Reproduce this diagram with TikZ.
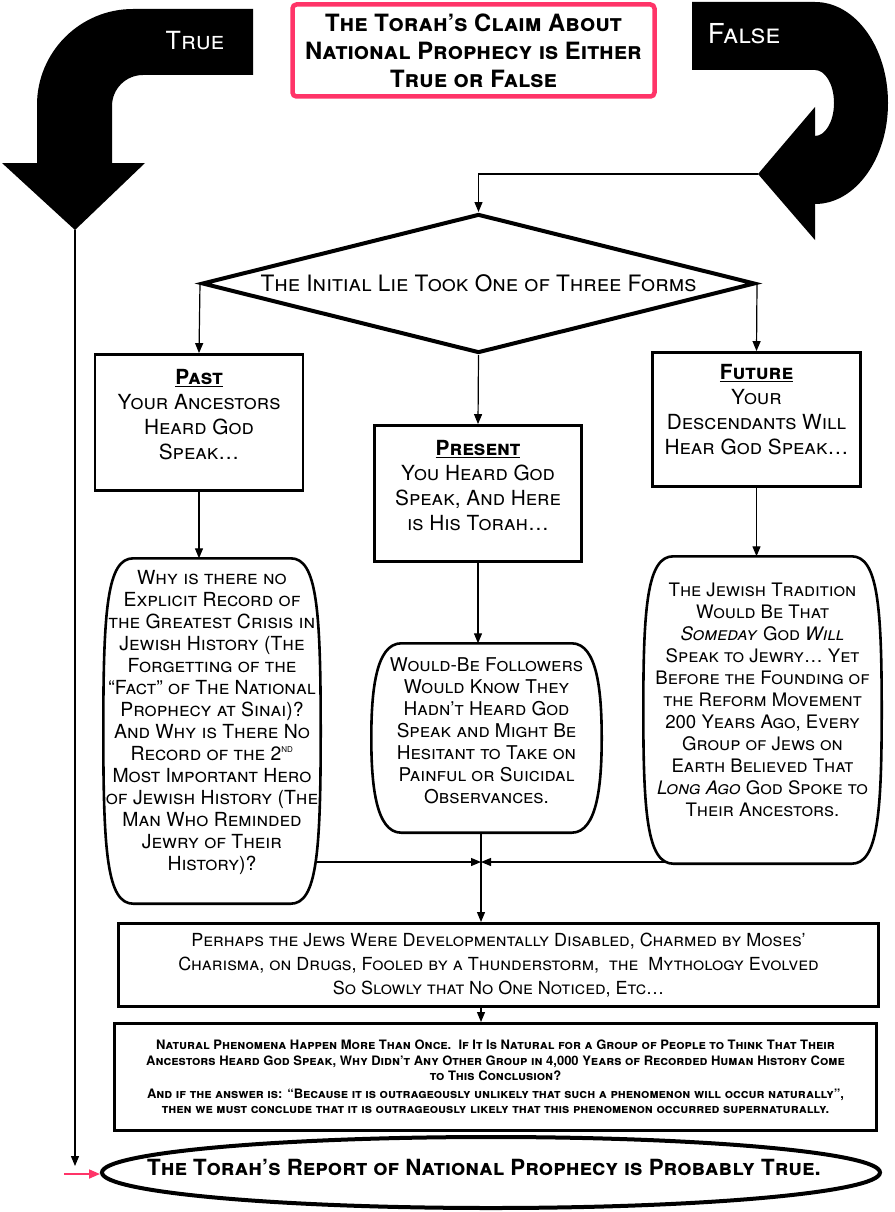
\documentclass[tikz,border=0pt]{standalone}
\usepackage{fontspec}
\setmainfont{TeX Gyre Heros}
\usetikzlibrary{shapes.geometric,arrows.meta,calc}
\definecolor{ClaimPink}{HTML}{FF3468}

% barrel outline drawn round a node
\newcommand\barrelpath[1]{%
  \draw[line width=2.6pt] ($(#1.north west)+(30,0)$) -- ($(#1.north east)+(-30,0)$)
    .. controls ($(#1.north east)+(-4,0)$) and ($(#1.north east)+(0,50)$) .. (#1.east)
    .. controls ($(#1.south east)+(0,-50)$) and ($(#1.south east)+(-4,0)$) .. ($(#1.south east)+(-30,0)$)
    -- ($(#1.south west)+(30,0)$)
    .. controls ($(#1.south west)+(4,0)$) and ($(#1.south west)+(0,-50)$) .. (#1.west)
    .. controls ($(#1.north west)+(0,50)$) and ($(#1.north west)+(4,0)$) .. cycle;}

\tikzset{
  link/.style={line width=1.2pt,-{Triangle[length=10pt,width=8pt]}},
  pinklink/.style={ClaimPink,line width=1.8pt,-{Triangle[length=11pt,width=9pt]}},
  answerlabel/.style={text=white,font=\fontsize{25}{25}\selectfont\scshape},
  claimbox/.style={draw=ClaimPink,line width=4.5pt,rounded corners=4pt,minimum width=362pt,
    minimum height=92pt,inner sep=0pt,align=center,font=\fontsize{23.8}{28}\selectfont\bfseries\scshape},
  liebox/.style={draw,diamond,aspect=3.98,line width=4pt,minimum width=553pt,minimum height=139pt,
    inner sep=0pt,font=\fontsize{22.6}{22.6}\selectfont\scshape},
  formbox/.style={draw,line width=2.8pt,minimum width=208pt,minimum height=136pt,inner sep=0pt,
    align=center,font=\fontsize{20.8}{25}\selectfont\scshape},
  doubtbarrel/.style={inner sep=0pt,align=center},
  reasonbox/.style={draw,line width=3pt,inner sep=0pt,align=center},
  verdictoval/.style={draw,ellipse,line width=4pt,minimum width=778pt,minimum height=71pt,
    inner sep=0pt,font=\fontsize{22.3}{22.3}\selectfont\bfseries\scshape}
}

\begin{document}
\begin{tikzpicture}[x=1pt,y=-1pt]
\useasboundingbox (0,0) rectangle (894,1212);

% the two answers
\fill (253,9) -- (133,9) arc (270:180:96) -- (37,163) -- (2,163) -- (75,230) -- (145,163)
  -- (112,163) -- (112,106) arc (180:270:31) -- (253,75) -- cycle;
\fill (692,2) -- (815,2) arc[start angle=270,end angle=450,x radius=73,y radius=101]
  -- (815,240) -- (758,174) -- (815,107) -- (815,136)
  arc[start angle=90,end angle=-90,x radius=19,y radius=33] -- (692,70) -- cycle;
\node[answerlabel] (truelabel) at (195,41) {True};
\node[answerlabel,font=\fontsize{27.5}{27.5}\selectfont\scshape] (falselabel) at (744,34) {False};
\coordinate (truetip) at (75,230);
\coordinate (falsetip) at (758,174);

\node[claimbox] (claim) at (473.5,50.5)
  {The Torah’s Claim About\\National Prophecy is Either\\True or False};

\node[liebox] (lie) at (478.5,283.5) {The Initial Lie Took One of Three Forms};

% the three forms
\node[formbox] (past) at (199,422.5)
  {\underline{\textbf{Past}}\\Your Ancestors\\Heard God\\Speak…\\[-9pt]\mbox{}};
\node[formbox,minimum width=207pt] (present) at (478,493.5)
  {\underline{\textbf{Present}}\\You Heard God\\Speak, And Here\\is His Torah…\\[-9pt]\mbox{}};
\node[formbox,minimum height=134pt] (future) at (756.5,419.5)
  {\underline{\textbf{Future}}\\Your\\Descendants Will\\Hear God Speak…\\[-5pt]\mbox{}};

% the doubts
\node[doubtbarrel,minimum width=217pt,minimum height=345pt,
  font=\fontsize{19.4}{22}\selectfont\scshape] (whybarrel) at (212,731)
  {Why is there no\\Explicit Record of\\the Greatest Crisis in\\Jewish History (The\\
   Forgetting of the\\“Fact” of The National\\Prophecy at Sinai)?\\And Why is There No\\
   Record of the 2\textsuperscript{\fontsize{8}{8}\selectfont\upshape ND}\\Most Important Hero\\
   of Jewish History (The\\Man Who Reminded\\Jewry of Their\\History)?\\[0pt]\mbox{}};
\node[doubtbarrel,minimum width=230pt,minimum height=189pt,
  font=\fontsize{19}{22}\selectfont\scshape] (followbarrel) at (486.5,738)
  {Would-Be Followers\\Would Know They\\Hadn’t Heard God\\Speak and Might Be\\
   Hesitant to Take on\\Painful or Suicidal\\Observances.\\[-7pt]\mbox{}};
\node[doubtbarrel,minimum width=238pt,minimum height=307pt,
  font=\fontsize{18.6}{22}\selectfont\scshape] (traditionbarrel) at (762.5,710)
  {The Jewish Tradition\\Would Be That\\\textit{Someday} God \textit{Will}\\Speak to Jewry… Yet\\
   Before the Founding of\\the Reform Movement\\200 Years Ago, Every\\Group of Jews on\\
   Earth Believed That\\\textit{Long Ago} God Spoke to\\Their Ancestors.\\[-1pt]\mbox{}};
\barrelpath{whybarrel}
\barrelpath{followbarrel}
\barrelpath{traditionbarrel}

% the explanations
\node[reasonbox,minimum width=760pt,minimum height=83pt,
  font=\fontsize{18}{24}\selectfont\scshape] (perhaps) at (498.5,965)
  {Perhaps the Jews Were Developmentally Disabled, Charmed by Moses’\\
   Charisma, on Drugs, Fooled by a Thunderstorm,\ \ the\ \ Mythology Evolved\\
   So Slowly that No One Noticed, Etc…};
\node[reasonbox,minimum width=762pt,minimum height=107pt,
  font=\fontsize{13}{15.5}\selectfont\bfseries\scshape] (natural) at (495.5,1077)
  {Natural Phenomena Happen More Than Once.\ \ If It Is Natural for a Group of People to Think That Their\\
   Ancestors Heard God Speak, Why Didn’t Any Other Group in 4,000 Years of Recorded Human History Come\\
   to This Conclusion?\\[2pt]
   And if the answer is: “Because it is outrageously unlikely that such a phenomenon will occur naturally”,\\
   then we must conclude that it is outrageously likely that this phenomenon occurred supernaturally.};

\node[verdictoval] (verdict) at (491,1172.5)
  {\makebox[0pt]{\raisebox{11pt}{The Torah’s Report of National Prophecy is Probably True.}\hspace{14pt}}};

% connectors
\coordinate (meet) at (481,862);
\coordinate (trueend) at (75,1166);
\coordinate (pinkstart) at (64,1174);
\draw[link] (falsetip) -| (lie.north);
\draw[link] (lie.west) -- (past.north);
\draw[link] (lie.south) -- (present.north);
\draw[link] (lie.east) -- (future.north);
\draw[link] (past.south) -- (past.south |- whybarrel.north);
\draw[link] (present.south) -- (present.south |- followbarrel.north);
\draw[link] (future.south) -- (future.south |- traditionbarrel.north);
\draw[link] ([xshift=-5pt]meet -| whybarrel.east) -- (meet);
\draw[link] ([xshift=23pt]meet -| traditionbarrel.west) -- (meet);
\draw[line width=1.2pt] (meet |- followbarrel.south) -- (meet);
\draw[link] (meet) -- (meet |- perhaps.north);
\draw[link] (meet |- perhaps.south) -- (meet |- natural.north);
\draw[link] (truetip) -- (trueend);
\draw[pinklink] (pinkstart) -- (pinkstart -| verdict.west);
\end{tikzpicture}
\end{document}
